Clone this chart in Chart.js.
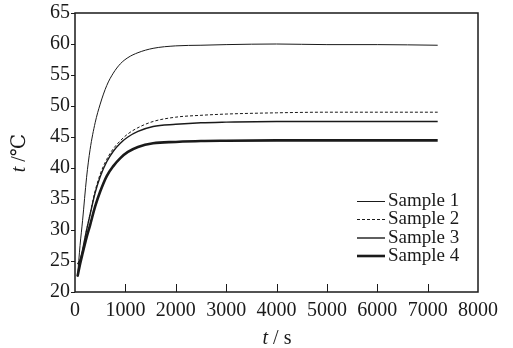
<!DOCTYPE html>
<html>
<head>
<meta charset="utf-8">
<script src="https://cdn.jsdelivr.net/npm/chart.js@4/dist/chart.umd.min.js"></script>
<style>
html,body{margin:0;padding:0;background:#fff;}
#wrap{width:513px;height:348px;position:relative;}
</style>
</head>
<body>
<div id="wrap"><canvas id="c" width="513" height="348"></canvas></div>
<script>
// ---- data ----
const times = [50, 100, 150, 230, 300, 400, 500, 630, 760, 900, 1050, 1250, 1550, 2000, 2500, 3000, 4000, 5000, 6000, 7200];
const sample1 = [22.5, 27.5, 31.5, 38.5, 43.0, 47.3, 50.3, 53.3, 55.3, 56.8, 57.8, 58.6, 59.3, 59.7, 59.8, 59.9, 60.0, 59.9, 59.9, 59.8];
const sample2 = [22.5, 24.5, 26.5, 30.0, 32.6, 36.3, 39.0, 41.4, 43.1, 44.4, 45.5, 46.5, 47.5, 48.2, 48.5, 48.7, 48.9, 49.0, 49.0, 49.0];
const sample3 = [24.5, 25.2, 26.8, 30.0, 32.5, 36.0, 38.6, 41.0, 42.7, 44.0, 45.0, 45.9, 46.7, 47.05, 47.3, 47.4, 47.5, 47.5, 47.5, 47.5];
const sample4 = [22.5, 24.5, 26.2, 28.8, 30.8, 33.8, 36.2, 38.7, 40.3, 41.6, 42.6, 43.4, 44.0, 44.2, 44.35, 44.4, 44.45, 44.45, 44.45, 44.45];
const seriesNames = ['Sample 1', 'Sample 2', 'Sample 3', 'Sample 4'];
const xTicks = [0, 1000, 2000, 3000, 4000, 5000, 6000, 7000, 8000];
const yTicks = [20, 25, 30, 35, 40, 45, 50, 55, 60, 65];

const INK = '#1a1a1a';
const SERIF = '"Liberation Serif", "DejaVu Serif", serif';

function pts(vals){ return times.map((t,i)=>({x:t, y:vals[i]})); }

const styles = [
  {borderWidth:1, borderDash:[]},
  {borderWidth:1, borderDash:[3,2]},
  {borderWidth:1.4, borderDash:[]},
  {borderWidth:2.6, borderDash:[]}
];
const allVals = [sample1, sample2, sample3, sample4];

const datasets = allVals.map((v,i)=>({
  label: seriesNames[i],
  data: pts(v),
  borderColor: INK,
  borderWidth: styles[i].borderWidth,
  borderDash: styles[i].borderDash,
  pointRadius: 0,
  fill: false,
  cubicInterpolationMode: 'monotone'
}));

const decor = {
  id: 'decor',
  afterDraw(chart){
    const ctx = chart.ctx;
    const a = chart.chartArea;
    const xs = chart.scales.x;
    ctx.save();
    // frame
    ctx.strokeStyle = INK;
    ctx.lineWidth = 1.5;
    ctx.setLineDash([]);
    ctx.strokeRect(a.left, a.top, a.right - a.left, a.bottom - a.top);
    // inner x ticks
    ctx.lineWidth = 1;
    xTicks.forEach(v=>{
      if (v === xs.min || v === xs.max) return;
      const px = Math.round(xs.getPixelForValue(v)) + 0.5;
      ctx.beginPath();
      ctx.moveTo(px, a.bottom);
      ctx.lineTo(px, a.bottom - 8);
      ctx.stroke();
    });
    // legend
    const lx0 = 357, lx1 = 385, tx = 388;
    const rows = [201.5, 219.5, 238, 256];
    ctx.font = '19px ' + SERIF;
    ctx.textBaseline = 'middle';
    ctx.textAlign = 'left';
    ctx.fillStyle = INK;
    chart.data.datasets.forEach((ds,i)=>{
      ctx.beginPath();
      ctx.lineWidth = ds.borderWidth;
      ctx.setLineDash(ds.borderDash || []);
      ctx.strokeStyle = INK;
      ctx.moveTo(lx0, rows[i]);
      ctx.lineTo(lx1, rows[i]);
      ctx.stroke();
      ctx.setLineDash([]);
      ctx.fillText(ds.label, tx, rows[i]);
    });
    // x axis title: t / s
    ctx.textBaseline = 'middle';
    ctx.font = 'italic 20px ' + SERIF;
    const p1 = 't', p2 = ' / s';
    const w1 = ctx.measureText(p1).width;
    ctx.font = '20px ' + SERIF;
    const w2 = ctx.measureText(p2).width;
    let sx = 277 - (w1 + w2) / 2;
    ctx.font = 'italic 20px ' + SERIF;
    ctx.fillText(p1, sx, 339);
    ctx.font = '20px ' + SERIF;
    ctx.fillText(p2, sx + w1, 339);
    // y axis title: t / ℃ (rotated)
    ctx.translate(20, 153);
    ctx.rotate(-Math.PI / 2);
    ctx.font = 'italic 20px ' + SERIF;
    const q1 = 't', q2 = ' /℃';
    const v1 = ctx.measureText(q1).width;
    ctx.font = '20px ' + SERIF;
    const v2 = ctx.measureText(q2).width;
    let sy = -(v1 + v2) / 2;
    ctx.font = 'italic 20px ' + SERIF;
    ctx.fillText(q1, sy, 0);
    ctx.font = '20px ' + SERIF;
    ctx.fillText(q2, sy + v1, 0);
    ctx.restore();
  }
};

new Chart(document.getElementById('c'), {
  type: 'line',
  data: { datasets },
  options: {
    responsive: false,
    animation: false,
    devicePixelRatio: 1,
    layout: { padding: { top: 13, right: 35, left: 0, bottom: 0 } },
    plugins: { legend: { display: false }, tooltip: { enabled: false }, title: { display: false } },
    scales: {
      x: {
        type: 'linear',
        min: 0, max: 8000,
        afterFit(s){ s.height = 56; },
        afterBuildTicks(s){ s.ticks = xTicks.map(v=>({value:v})); },
        grid: { display: false, drawTicks: false },
        border: { display: false },
        ticks: { autoSkip: false, maxRotation: 0, padding: 7, color: INK, font: { family: SERIF, size: 20 },
                 callback: (v)=>String(v) }
      },
      y: {
        type: 'linear',
        min: 20, max: 65,
        afterFit(s){ s.width = 75; },
        afterBuildTicks(s){ s.ticks = yTicks.map(v=>({value:v})); },
        grid: { display: true, drawOnChartArea: false, drawTicks: true, tickLength: 4, color: INK, lineWidth: 1 },
        border: { display: false },
        ticks: { autoSkip: false, padding: 1, color: INK, font: { family: SERIF, size: 20 },
                 callback: (v)=>String(v) }
      }
    }
  },
  plugins: [decor]
});
</script>
</body>
</html>
